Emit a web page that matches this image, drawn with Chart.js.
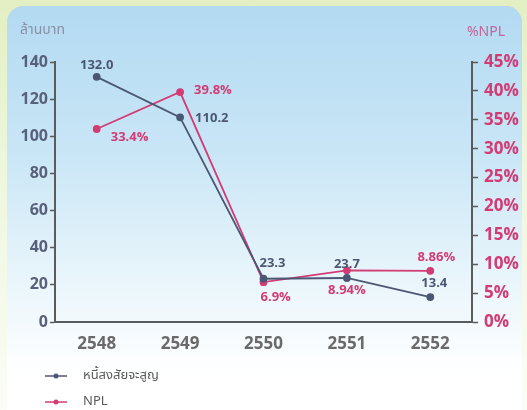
<!DOCTYPE html>
<html>
<head>
<meta charset="utf-8">
<script src="https://cdn.jsdelivr.net/npm/chart.js@4"></script>
<style>
  html, body { margin: 0; padding: 0; }
  body {
    width: 527px; height: 410px; overflow: hidden; position: relative;
    background: linear-gradient(180deg, #e3efc2 0%, #eef6dc 40%, #fafdf6 100%);
  }
  .panel {
    position: absolute; left: 7px; top: 6px; width: 515px; height: 420px;
    border-radius: 16px;
    background: linear-gradient(180deg, #b3daf2 0%, #c9e6f6 35%, #e9f5fb 65%, #ffffff 88%);
  }
  .wrap { position: absolute; left: 0; top: 0; width: 527px; height: 410px; }
</style>
</head>
<body>
<div class="panel"></div>
<div class="wrap"><canvas id="myChart" width="527" height="410"></canvas></div>
<script>
const years = ['2548', '2549', '2550', '2551', '2552'];
const badDebt = [132.0, 110.2, 23.3, 23.7, 13.4];      // ล้านบาท
const nplPct = [33.4, 39.8, 6.9, 8.94, 8.86];           // %NPL
const badDebtText = ['132.0', '110.2', '23.3', '23.7', '13.4'];
const nplText = ['33.4%', '39.8%', '6.9%', '8.94%', '8.86%'];

const slate = '#4c5774';
const pink = '#d23b73';
const thai = '"Noto Sans Thai", "Noto Sans", "DejaVu Sans", sans-serif';
const num = '"Open Sans", "Noto Sans", sans-serif';

// where each value label sits relative to its point: [dx, dy, align]
const badDebtPos = [[0, -12, 'center'], [15, 1, 'left'], [-4, -15, 'left'], [0, -14, 'center'], [4, -14, 'center']];
const nplPos = [[14, 8, 'left'], [14, -2, 'left'], [-3, 15, 'left'], [0, 20, 'center'], [6, -14, 'center']];

const labelsPlugin = {
  id: 'valueLabels',
  afterDatasetsDraw(chart) {
    const ctx = chart.ctx;
    const sets = [[0, badDebtText, badDebtPos, slate], [1, nplText, nplPos, pink]];
    ctx.save();
    ctx.font = 'bold 13px ' + num;
    ctx.textBaseline = 'middle';
    sets.forEach(([i, texts, pos, color]) => {
      const meta = chart.getDatasetMeta(i);
      ctx.fillStyle = color;
      meta.data.forEach((pt, j) => {
        ctx.textAlign = pos[j][2];
        ctx.fillText(texts[j], pt.x + pos[j][0], pt.y + pos[j][1]);
      });
    });

    // axis titles
    ctx.font = '14px ' + thai;
    ctx.fillStyle = '#8790a6';
    ctx.textAlign = 'left';
    ctx.fillText('ล้านบาท', 20, 31);
    ctx.fillStyle = '#c5659b';
    ctx.textAlign = 'right';
    ctx.fillText('%NPL', 505, 33);

    // legend, stacked at the bottom left
    const items = [['หนี้สงสัยจะสูญ', slate, 376], ['NPL', pink, 402]];
    items.forEach(([text, color, y]) => {
      ctx.strokeStyle = color;
      ctx.lineWidth = 1.5;
      ctx.beginPath();
      ctx.moveTo(45, y);
      ctx.lineTo(67, y);
      ctx.stroke();
      ctx.fillStyle = color;
      ctx.beginPath();
      ctx.arc(56, y, 2.5, 0, Math.PI * 2);
      ctx.fill();
      ctx.fillStyle = '#5a5a5a';
      ctx.textAlign = 'left';
      ctx.font = '13px ' + thai;
      ctx.fillText(text, 83, y);
    });
    ctx.restore();
  }
};

const ctx = document.getElementById('myChart');

new Chart(ctx, {
  type: 'line',
  data: {
    labels: years,
    datasets: [{
      label: 'หนี้สงสัยจะสูญ',
      data: badDebt,
      yAxisID: 'y',
      borderColor: slate,
      backgroundColor: slate,
      borderWidth: 1.8,
      pointRadius: 3,
      pointHoverRadius: 3
    }, {
      label: 'NPL',
      data: nplPct,
      yAxisID: 'y1',
      borderColor: pink,
      backgroundColor: pink,
      borderWidth: 1.8,
      pointRadius: 3,
      pointHoverRadius: 3
    }]
  },
  options: {
    responsive: false,
    animation: false,
    layout: { padding: { top: 62, left: 0, right: 0, bottom: 48 } },
    plugins: { legend: { display: false }, tooltip: { enabled: false } },
    scales: {
      x: {
        offset: true,
        grid: { display: false, drawTicks: false },
        border: { color: '#5b5b5b', width: 2 },
        ticks: { color: '#6a6a6a', font: { family: num, size: 17, weight: 'bold' }, padding: 12 },
        afterFit: s => { s.height = 40; }
      },
      y: {
        position: 'left',
        min: 0, max: 140,
        grid: { drawOnChartArea: false, drawTicks: true, tickLength: 5, tickColor: '#5b5b5b', tickWidth: 1.5 },
        border: { color: '#5b5b5b', width: 2 },
        ticks: { stepSize: 20, color: '#58607a', font: { family: num, size: 16, weight: 'bold' }, padding: 2 },
        afterFit: s => { s.width = 55; }
      },
      y1: {
        position: 'right',
        min: 0, max: 45,
        grid: { drawOnChartArea: false, drawTicks: true, tickLength: 6, tickColor: '#5b5b5b', tickWidth: 1.5 },
        border: { color: '#5b5b5b', width: 2 },
        ticks: {
          stepSize: 5, color: pink, font: { family: num, size: 17, weight: 'bold' }, padding: 6,
          callback: v => v + '%'
        },
        afterFit: s => { s.width = 55; }
      }
    }
  },
  plugins: [labelsPlugin]
});
</script>
</body>
</html>
